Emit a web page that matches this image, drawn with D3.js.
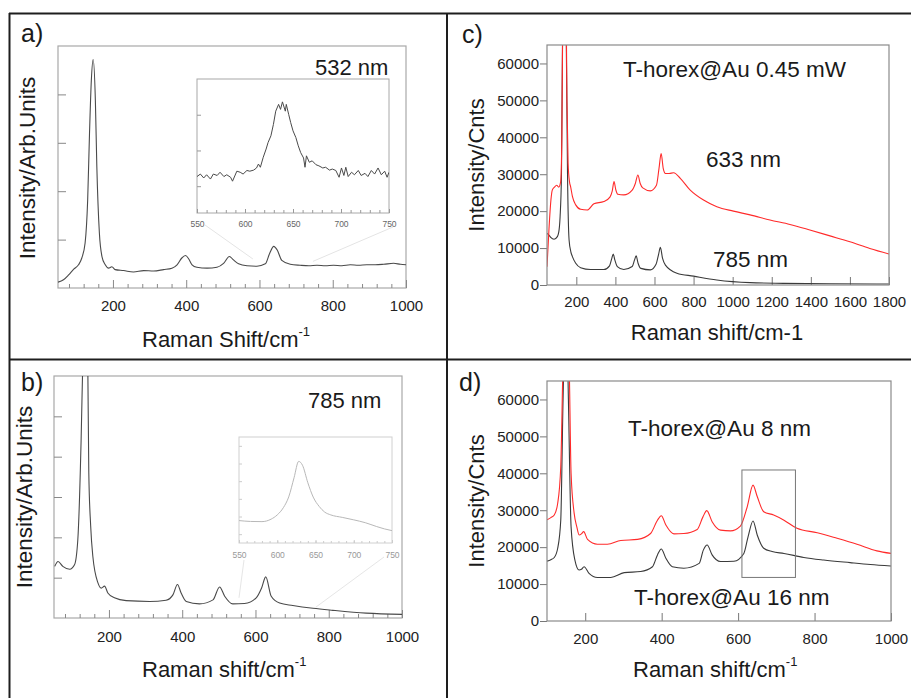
<!DOCTYPE html>
<html><head><meta charset="utf-8">
<script src="https://cdn.jsdelivr.net/npm/d3@7"></script>
<style>
body{margin:0;background:#fff}
svg{display:block}
text{font-family:"Liberation Sans",Arial,Helvetica,sans-serif}
</style>
</head><body>
<svg id="chart" width="911" height="698"></svg>
<script>
// ---------------- DATA ----------------
// Panel a (532 nm), [Raman shift, arb. intensity]
const aSpectrum = [[50,0.12],[65,0.17],[79,0.27],[93,0.39],[106,0.48],[115,0.62],[124,0.93],[131,1.82],[136,3.19],[141,4.29],[146,4.72],[152,3.88],[156,2.51],[163,1.13],[170,0.65],[179,0.48],[188,0.41],[197,0.44],[206,0.38],[229,0.36],[256,0.33],[284,0.36],[311,0.35],[338,0.38],[361,0.41],[375,0.48],[388,0.62],[398,0.67],[407,0.60],[416,0.48],[429,0.43],[457,0.41],[484,0.43],[502,0.51],[518,0.65],[529,0.58],[543,0.50],[566,0.46],[593,0.45],[616,0.50],[628,0.72],[639,0.86],[648,0.79],[661,0.57],[684,0.49],[711,0.47],[735,0.46],[757,0.47],[780,0.46],[802,0.47],[825,0.46],[848,0.48],[870,0.47],[893,0.48],[916,0.48],[939,0.49],[966,0.51],[985,0.49],[1000,0.48]];
const aInset = [[550,1.27],[553.5,1.34],[557,1.23],[560,1.32],[564,1.20],[567,1.34],[571,1.30],[574,1.39],[578,1.27],[581,1.32],[585,1.25],[587,1.14],[591.5,1.42],[595,1.39],[598,1.34],[602,1.44],[605,1.42],[609,1.45],[612,1.51],[614,1.62],[616,1.53],[619,1.81],[622,2.04],[624,2.22],[627,2.41],[629.6,2.73],[632,3.10],[635,3.29],[637,3.15],[639,3.36],[642,3.10],[643,3.29],[645.5,3.01],[647.6,2.78],[650,2.55],[653,2.36],[655.5,2.13],[658,1.94],[661,1.79],[662.5,1.53],[664,1.85],[667,1.67],[670,1.71],[674,1.60],[677,1.57],[681,1.51],[684,1.53],[688,1.45],[691,1.48],[694.6,1.44],[698,1.25],[700.5,1.51],[703,1.30],[705,1.53],[707.5,1.27],[711,1.39],[714,1.32],[718,1.44],[721,1.30],[725,1.36],[728,1.27],[731.6,1.44],[735,1.34],[738.6,1.51],[742,1.32],[745.5,1.42],[748,1.25],[750,1.39]];
// Panel b (785 nm)
const bSpectrum = [[52,1.28],[61,1.40],[74,1.28],[93,1.21],[106,1.32],[115,1.94],[124,4.4],[129,6.5],[137,8],[142,6.5],[145,3.6],[150,2.3],[156,1.53],[170,0.87],[179,0.74],[188,0.79],[197,0.62],[215,0.50],[247,0.43],[311,0.41],[356,0.44],[375,0.58],[387,0.83],[397,0.62],[411,0.41],[447,0.35],[484,0.45],[502,0.77],[516,0.54],[538,0.35],[570,0.36],[602,0.50],[617,0.75],[628,1.02],[643,0.54],[666,0.37],[702,0.31],[757,0.24],[811,0.19],[902,0.12],[1000,0.09]];
const bInset = [[550,0.77],[565,0.72],[580,0.71],[592,0.85],[600,1.09],[608,1.5],[615,2.11],[622,3.2],[628,4.12],[633,3.9],[640,2.91],[647,2.1],[655,1.56],[662,1.25],[670,1.09],[685,0.95],[700,0.81],[715,0.65],[730,0.43],[740,0.3],[750,0.2]];
// Panel c (T-horex@Au 0.45 mW), counts
const c633 = [[50,4960],[60,15000],[70,23000],[77,25700],[88,26500],[100,27000],[110,26500],[120,28000],[126,40000],[132,80000],[145,90000],[152,50000],[158,33000],[165,28000],[171,26600],[180,24000],[197,21700],[222,20500],[256,20300],[290,22000],[341,22600],[372,23800],[384,25500],[393,28000],[402,25800],[412,24600],[443,24400],[486,25700],[502,27500],[515,29800],[527,27500],[540,26300],[579,25500],[610,27000],[623,31500],[634,35600],[645,31500],[656,30200],[675,30200],[698,30400],[732,28900],[783,25700],[851,23000],[919,21200],[1004,20000],[1089,19000],[1191,17600],[1293,16400],[1395,14900],[1498,13300],[1600,11700],[1702,9900],[1800,8400]];
const c785 = [[50,14000],[60,13500],[69,12900],[86,12400],[103,13100],[112,15000],[117,18500],[124,30000],[130,70000],[140,90000],[148,70000],[155,30000],[163,12200],[172,9000],[180,7700],[197,5900],[222,4700],[273,4200],[341,4200],[370,5200],[382,7300],[389,8400],[397,6800],[410,5000],[443,4200],[486,5000],[498,6800],[506,7900],[516,5900],[530,4500],[579,4100],[608,5600],[621,8300],[630,10200],[641,7300],[656,5400],[715,3200],[800,2400],[919,1350],[1089,630],[1260,450],[1500,320],[1800,270]];
// Panel d (T-horex@Au 8 nm / 16 nm)
const d8nm = [[100,27400],[110,28000],[119,28700],[128,31900],[136,41800],[142,70000],[150,90000],[158,70000],[163,40000],[171,29200],[178,25500],[184,23300],[190,23600],[196,24200],[206,22100],[232,20800],[258,20800],[293,21800],[337,22100],[371,23700],[389,27300],[399,28500],[411,26000],[432,23600],[458,23700],[493,24800],[508,28200],[518,29900],[532,26900],[554,24600],[580,24400],[606,25700],[624,31000],[639,36800],[650,33700],[667,29600],[693,28700],[720,27300],[754,25100],[807,23900],[859,22400],[911,20800],[963,19000],[1000,18300]];
const d16nm = [[100,16200],[110,16600],[119,17200],[128,19700],[136,27300],[142,60000],[150,90000],[156,60000],[163,25500],[173,16500],[184,13800],[190,14000],[197,14700],[210,12900],[232,11800],[267,11800],[302,13100],[345,13400],[376,14700],[389,17900],[399,19500],[411,17000],[428,14700],[458,14300],[498,15600],[509,19200],[519,20600],[532,17900],[554,16100],[589,16200],[615,18300],[626,22800],[639,27100],[650,23300],[667,19700],[689,18800],[720,18300],[772,17200],[824,16500],[893,15800],[946,15300],[1000,14900]];
const dBox = {x:[610,750], y:[11800,40900]};

// tick values
const abMajorTicks = [200,400,600,800,1000];
const abMinorTicks = d3.range(80,1001,40).filter(v => v % 200 !== 0);
const aYTicks = [1,2,3,4];
const bYTicks = [1,2,3,4,5];
const insetXLabels = [550,600,650,700,750];
const insetXMinor = d3.range(550,751,10);
const aInsetYTicks = [1,2,3];
const bInsetYTicks = [0,1,2,3,4,5];
const cXTicks = [200,400,600,800,1000,1200,1400,1600,1800];
const cdYTicks = [0,10000,20000,30000,40000,50000,60000];
const dXTicks = [200,400,600,800,1000];

// ---------------- DRAW ----------------
const svg = d3.select("#chart");
const FONT = '"Liberation Sans", Arial, Helvetica, sans-serif';
const fmt = d3.format("d");
let clipN = 0;

function makeFrame(f, xd, yd) {
  return {
    f,
    x: d3.scaleLinear().domain(xd).range([f[0], f[1]]),
    y: d3.scaleLinear().domain(yd).range([f[3], f[2]])
  };
}
function clip(f) {
  const id = "clip" + (clipN++);
  svg.append("clipPath").attr("id", id).append("rect")
    .attr("x", f[0]).attr("y", f[2]).attr("width", f[1] - f[0]).attr("height", f[3] - f[2]);
  return "url(#" + id + ")";
}
function styleAxis(g, color, size, textColor) {
  g.select(".domain").remove();
  g.selectAll(".tick line").attr("stroke", color).attr("stroke-width", 1);
  g.selectAll("text").attr("font-family", FONT).attr("font-size", size).attr("fill", textColor || "#222");
  g.attr("font-family", null).attr("font-size", null);
}
function drawLine(P, data, color, width, curve) {
  svg.append("path").datum(data)
    .attr("clip-path", clip(P.f))
    .attr("fill", "none").attr("stroke", color).attr("stroke-width", width)
    .attr("stroke-linejoin", "round")
    .attr("d", d3.line().x(d => P.x(d[0])).y(d => P.y(d[1])).curve(curve || d3.curveMonotoneX));
}
function frameRect(P, color, w) {
  svg.append("rect").attr("x", P.f[0]).attr("y", P.f[2])
    .attr("width", P.f[1] - P.f[0]).attr("height", P.f[3] - P.f[2])
    .attr("fill", "none").attr("stroke", color).attr("stroke-width", w);
}
function text(x, y, s, size, opts) {
  opts = opts || {};
  const t = svg.append("text").attr("x", x).attr("y", y)
    .attr("font-size", size).attr("fill", opts.fill || "#1a1a1a")
    .attr("text-anchor", opts.anchor || "start");
  if (opts.rotate) t.attr("transform", `rotate(-90,${x},${y})`);
  t.text(s);
  return t;
}
function xLabelSup(x, y, main, sup) {
  const t = svg.append("text").attr("x", x).attr("y", y).attr("font-size", 22).attr("fill", "#1a1a1a");
  t.append("tspan").text(main);
  t.append("tspan").attr("font-size", 13).attr("dy", -11).text(sup);
}

// ---- Panel a ----
const A = makeFrame([58, 406, 46, 288], [50, 1000], [0, 5]);
frameRect(A, "#a8a8a8", 1.2);
{
  const gx = svg.append("g").attr("transform", `translate(0,${A.f[3]})`)
    .call(d3.axisBottom(A.x).tickValues(abMajorTicks).tickSize(-8).tickPadding(12).tickFormat(fmt));
  styleAxis(gx, "#888", 15);
  const gm = svg.append("g").attr("transform", `translate(0,${A.f[3]})`)
    .call(d3.axisBottom(A.x).tickValues(abMinorTicks).tickSize(-4).tickFormat(""));
  styleAxis(gm, "#888", 15);
  const gy = svg.append("g").attr("transform", `translate(${A.f[0]},0)`)
    .call(d3.axisLeft(A.y).tickValues(aYTicks).tickSize(-8).tickFormat(""));
  styleAxis(gy, "#888", 15);
}
drawLine(A, aSpectrum, "#4a4a4a", 1.1);
// inset a
const AI = makeFrame([197, 389, 79, 213], [550, 750], [0.25, 4]);
svg.append("line").attr("x1", AI.x(550) + 8).attr("y1", AI.f[3] + 12).attr("x2", A.x(582)).attr("y2", A.y(0.6))
  .attr("stroke", "#e4e4e4").attr("stroke-width", 1);
svg.append("line").attr("x1", AI.x(750) + 4).attr("y1", AI.f[3] + 14).attr("x2", A.x(746)).attr("y2", A.y(0.55))
  .attr("stroke", "#e4e4e4").attr("stroke-width", 1);
svg.append("rect").attr("x", AI.f[0]).attr("y", AI.f[2]).attr("width", AI.f[1] - AI.f[0]).attr("height", AI.f[3] - AI.f[2]).attr("fill", "#fff");
frameRect(AI, "#a8a8a8", 1);
{
  const gx = svg.append("g").attr("transform", `translate(0,${AI.f[3]})`)
    .call(d3.axisBottom(AI.x).tickValues(insetXLabels).tickSize(-4).tickPadding(8).tickFormat(fmt));
  styleAxis(gx, "#999", 8.5, "#666");
  const gm = svg.append("g").attr("transform", `translate(0,${AI.f[3]})`)
    .call(d3.axisBottom(AI.x).tickValues(insetXMinor).tickSize(-3).tickFormat(""));
  styleAxis(gm, "#999", 8.5);
  const gy = svg.append("g").attr("transform", `translate(${AI.f[0]},0)`)
    .call(d3.axisLeft(AI.y).tickValues(aInsetYTicks).tickSize(-4).tickFormat(""));
  styleAxis(gy, "#999", 8.5);
}
drawLine(AI, aInset, "#4a4a4a", 1, d3.curveLinear);
text(21, 42, "a)", 25);
text(315, 75, "532 nm", 22);
text(35, 168, "Intensity/Arb.Units", 22.5, {rotate: true, anchor: "middle"});
xLabelSup(142, 347, "Raman Shift/cm", "-1");

// ---- Panel b ----
const B = makeFrame([54, 402, 376, 618], [50, 1000], [0, 6]);
frameRect(B, "#a8a8a8", 1.2);
{
  const gx = svg.append("g").attr("transform", `translate(0,${B.f[3]})`)
    .call(d3.axisBottom(B.x).tickValues(abMajorTicks).tickSize(-8).tickPadding(13).tickFormat(fmt));
  styleAxis(gx, "#888", 15);
  const gm = svg.append("g").attr("transform", `translate(0,${B.f[3]})`)
    .call(d3.axisBottom(B.x).tickValues(abMinorTicks).tickSize(-4).tickFormat(""));
  styleAxis(gm, "#888", 15);
  const gy = svg.append("g").attr("transform", `translate(${B.f[0]},0)`)
    .call(d3.axisLeft(B.y).tickValues(bYTicks).tickSize(-8).tickFormat(""));
  styleAxis(gy, "#888", 15);
}
drawLine(B, bSpectrum, "#4a4a4a", 1.1);
const BI = makeFrame([239, 392, 437, 543], [550, 750], [-0.5, 5.5]);
svg.append("line").attr("x1", BI.x(550) + 5).attr("y1", BI.f[3] + 17).attr("x2", B.x(555)).attr("y2", B.y(0.5))
  .attr("stroke", "#e6e6e6").attr("stroke-width", 1);
svg.append("line").attr("x1", BI.x(750) - 8).attr("y1", BI.f[3] + 14).attr("x2", B.x(765)).attr("y2", B.y(0.27))
  .attr("stroke", "#e6e6e6").attr("stroke-width", 1);
svg.append("rect").attr("x", BI.f[0]).attr("y", BI.f[2]).attr("width", BI.f[1] - BI.f[0]).attr("height", BI.f[3] - BI.f[2]).attr("fill", "#fff");
frameRect(BI, "#d0d0d0", 1);
{
  const gx = svg.append("g").attr("transform", `translate(0,${BI.f[3]})`)
    .call(d3.axisBottom(BI.x).tickValues(insetXLabels).tickSize(-3).tickPadding(9).tickFormat(fmt));
  styleAxis(gx, "#ccc", 8.5, "#999");
  const gm = svg.append("g").attr("transform", `translate(0,${BI.f[3]})`)
    .call(d3.axisBottom(BI.x).tickValues(insetXMinor).tickSize(-2).tickFormat(""));
  styleAxis(gm, "#ccc", 8.5);
  const gy = svg.append("g").attr("transform", `translate(${BI.f[0]},0)`)
    .call(d3.axisLeft(BI.y).tickValues(bInsetYTicks).tickSize(-3).tickFormat(""));
  styleAxis(gy, "#ccc", 8.5);
}
drawLine(BI, bInset, "#b8b8b8", 1);
text(21, 391, "b)", 25);
text(308, 408, "785 nm", 22);
text(32, 497, "Intensity/Arb.Units", 22.5, {rotate: true, anchor: "middle"});
xLabelSup(142, 677, "Raman shift/cm", "-1");

// ---- Panel c ----
const C = makeFrame([547, 889, 45, 285], [50, 1800], [0, 65000]);
{
  const gx = svg.append("g").attr("transform", `translate(0,${C.f[3]})`)
    .call(d3.axisBottom(C.x).tickValues(cXTicks).tickSize(-8).tickPadding(11).tickFormat(fmt));
  styleAxis(gx, "#777", 15);
  const gy = svg.append("g").attr("transform", `translate(${C.f[0]},0)`)
    .call(d3.axisLeft(C.y).tickValues(cdYTicks).tickSize(7).tickPadding(1).tickFormat(fmt));
  styleAxis(gy, "#777", 15);
}
drawLine(C, c785, "#3a3a3a", 1.1);
drawLine(C, c633, "#ff2a2a", 1.1);
frameRect(C, "#8a8a8a", 1.2);
text(462, 43, "c)", 25);
text(623, 77, "T-horex@Au 0.45 mW", 22.5);
text(706, 167, "633 nm", 22.5);
text(713, 267, "785 nm", 22.5);
text(484, 165, "Intensity/Cnts", 22, {rotate: true, anchor: "middle"});
text(717, 340, "Raman shift/cm-1", 22, {anchor: "middle"});

// ---- Panel d ----
const D = makeFrame([547, 891, 381, 621], [100, 1000], [0, 65000]);
{
  const gx = svg.append("g").attr("transform", `translate(0,${D.f[3]})`)
    .call(d3.axisBottom(D.x).tickValues(dXTicks).tickSize(-8).tickPadding(12).tickFormat(fmt));
  styleAxis(gx, "#777", 15);
  const gy = svg.append("g").attr("transform", `translate(${D.f[0]},0)`)
    .call(d3.axisLeft(D.y).tickValues(cdYTicks).tickSize(7).tickPadding(1).tickFormat(fmt));
  styleAxis(gy, "#777", 15);
}
drawLine(D, d16nm, "#3a3a3a", 1.1);
drawLine(D, d8nm, "#ff2a2a", 1.1);
svg.append("rect")
  .attr("x", D.x(dBox.x[0])).attr("y", D.y(dBox.y[1]))
  .attr("width", D.x(dBox.x[1]) - D.x(dBox.x[0])).attr("height", D.y(dBox.y[0]) - D.y(dBox.y[1]))
  .attr("fill", "none").attr("stroke", "#777").attr("stroke-width", 1);
frameRect(D, "#8a8a8a", 1.2);
text(459, 391, "d)", 25);
text(628, 436, "T-horex@Au 8 nm", 22.5);
text(634, 605, "T-horex@Au 16 nm", 22.5);
text(484, 501, "Intensity/Cnts", 22, {rotate: true, anchor: "middle"});
xLabelSup(633, 677, "Raman shift/cm", "-1");

// ---- panel borders ----
const borders = svg.append("g").attr("stroke", "#1e1e1e").attr("stroke-width", 2);
borders.append("line").attr("x1", 9).attr("y1", 13.5).attr("x2", 911).attr("y2", 13.5);
borders.append("line").attr("x1", 9.5).attr("y1", 13).attr("x2", 9.5).attr("y2", 698);
borders.append("line").attr("x1", 447).attr("y1", 13).attr("x2", 447).attr("y2", 698);
borders.append("line").attr("x1", 9).attr("y1", 359.5).attr("x2", 911).attr("y2", 359.5);
</script>
</body></html>
